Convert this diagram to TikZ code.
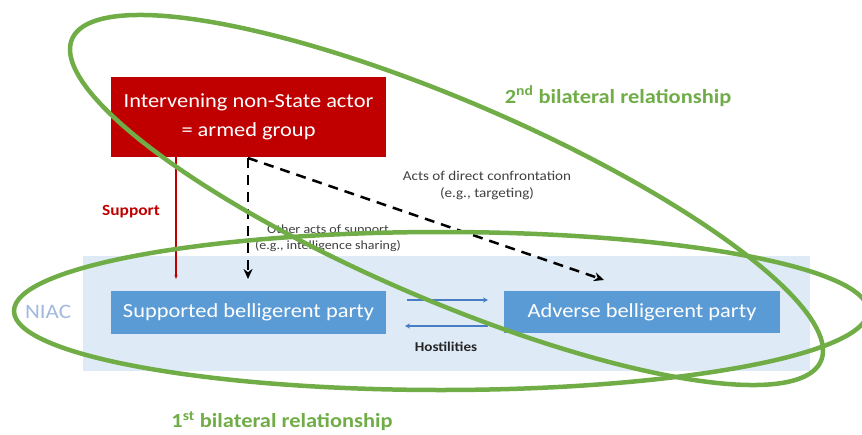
\documentclass[tikz,border=0pt]{standalone}
\usepackage{fontspec}
\setmainfont{Carlito}[FakeStretch=1.12]
\usetikzlibrary{arrows.meta}
\definecolor{redbox}{RGB}{192,0,0}
\definecolor{bluebox}{RGB}{91,155,213}
\definecolor{bgblue}{RGB}{222,235,247}
\definecolor{grn}{RGB}{112,173,71}
\definecolor{niacc}{RGB}{160,185,220}
\definecolor{hostblue}{RGB}{70,125,195}
\definecolor{txtgray}{RGB}{64,64,64}
\begin{document}
\begin{tikzpicture}[x=1pt,y=-1pt,
  boxstyle/.style={draw=none, inner sep=0pt, text=white, align=center,
    font=\fontsize{20}{29}\selectfont},
  dashline/.style={draw=black, line width=2.5pt, dash pattern=on 10pt off 7pt,
    -{Stealth[length=10pt,width=9pt]}},
  hostarrow/.style={draw=hostblue, line width=2pt, -{Stealth[length=5pt,width=5pt]}},
  smalltext/.style={text=txtgray, align=center, font=\fontsize{12.5}{16}\selectfont},
  relation/.style={text=grn, font=\bfseries\fontsize{20}{24}\selectfont},
  loop/.style={draw=grn, line width=4.5pt}
]
\useasboundingbox (0,0) rectangle (862,434);
% background NIAC area
\node[fill=bgblue, draw=none, minimum width=727pt, minimum height=115pt, inner sep=0pt] (niacarea) at (446.5,313.5) {};
\node[text=niacc, font=\fontsize{20.5}{24}\selectfont] (niac) at (48,312) {NIAC};
% boxes
\node[boxstyle, fill=redbox, minimum width=275pt, minimum height=80pt] (actor) at (248.5,117) {Intervening non-State actor\\= armed group};
\node[boxstyle, fill=bluebox, minimum width=275pt, minimum height=43pt] (supported) at (248.5,312.5) {Supported belligerent party};
\node[boxstyle, fill=bluebox, minimum width=276pt, minimum height=42pt] (adverse) at (642,312) {Adverse belligerent party};
% support line
\coordinate (supend) at (176,279);
\draw[draw=redbox, line width=1.5pt, -{Stealth[length=4pt,width=3pt]}] (actor.south -| supend) -- (supend);
\node[text=redbox, font=\bfseries\fontsize{15.5}{17}\selectfont] (supportlbl) at (131,212) {Support};
% dashed arrows
\coordinate (dcorner) at (248,158);
\coordinate (dend1) at (248,279);
\coordinate (dend2) at (604,280);
\draw[dashline] (dcorner) -- (dend1);
\draw[dashline] (dcorner) -- (dend2);
\node[smalltext, font=\fontsize{13.5}{17}\selectfont] (directlbl) at (487,185) {Acts of direct confrontation\\(e.g., targeting)};
\node[smalltext] (otherlbl) at (328,238) {Other acts of support\\(e.g., intelligence sharing)};
% hostilities
\coordinate (h1a) at (407,300);
\coordinate (h1b) at (488,300);
\coordinate (h2a) at (488,326);
\coordinate (h2b) at (405,326);
\draw[hostarrow] (h1a) -- (h1b);
\draw[hostarrow] (h2a) -- (h2b);
\node[text=black!85, font=\bfseries\fontsize{13.5}{15}\selectfont] (hostlbl) at (446,347) {Hostilities};
% relationship labels
\node[relation] (rel2) at (618,96) {2\textsuperscript{nd} bilateral relationship};
\node[relation] (rel1) at (282,421) {1\textsuperscript{st} bilateral relationship};
% green loops
\draw[loop] (441,311) ellipse [x radius=427, y radius=79];
\draw[loop] plot[domain=0:357, samples=120, smooth cycle, variable=\t]
  ({446.5+376.5*cos(\t)}, {200+150.6*cos(\t)+107.5*sin(\t)});
\end{tikzpicture}
\end{document}
